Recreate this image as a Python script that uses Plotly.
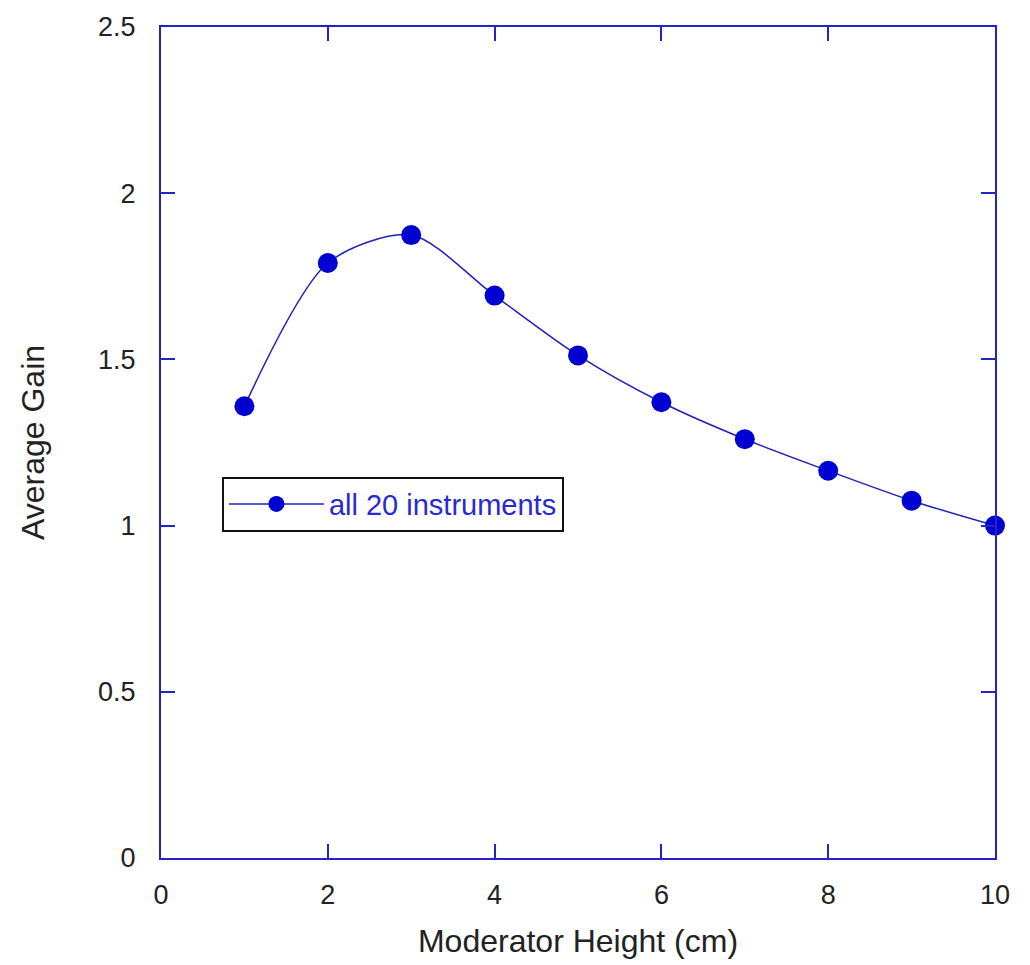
import plotly.graph_objects as go

heights = [1, 2, 3, 4, 5, 6, 7, 8, 9, 10]
avg_gain = [1.359, 1.790, 1.874, 1.692, 1.512, 1.371, 1.260, 1.165, 1.075, 1.000]
series_name = "all 20 instruments"

AX = "#2323c8"
FONT = "Liberation Sans, Arial"
fig = go.Figure()
fig.add_trace(go.Scatter(
    x=heights, y=avg_gain, name=series_name, mode="lines+markers",
    line=dict(color="#2020b8", width=1.5, shape="spline", smoothing=0.8),
    marker=dict(color="#0000d0", size=20, symbol="circle"),
    showlegend=True, cliponaxis=False,
))

axis_common = dict(
    showline=True, linecolor=AX, linewidth=2, mirror="ticks",
    ticks="inside", ticklen=14, tickwidth=1.5, tickcolor=AX,
    showgrid=False, zeroline=False,
    tickfont=dict(family=FONT, size=27, color="#222"),
)
fig.update_xaxes(range=[0, 10], dtick=2, tick0=0, ticklabelstandoff=12,
                 title=dict(text="Moderator Height (cm)", font=dict(family=FONT, size=32, color="#222"), standoff=20),
                 **axis_common)
fig.update_yaxes(range=[0, 2.5], dtick=0.5, tick0=0, ticklabelstandoff=18,
                 title=dict(text="Average Gain", font=dict(family=FONT, size=32, color="#222"), standoff=44),
                 **axis_common)
fig.update_layout(
    width=1030, height=965,
    margin=dict(l=161, r=35, t=24, b=106),
    plot_bgcolor="white", paper_bgcolor="white",
    legend=dict(x=0.073, y=0.459, xanchor="left", yanchor="top",
                bordercolor="#111", borderwidth=2, bgcolor="white",
                font=dict(family=FONT, size=29, color="#2a2ad0"),
                itemwidth=95, tracegroupgap=0),
)
fig.write_html("out.html")
